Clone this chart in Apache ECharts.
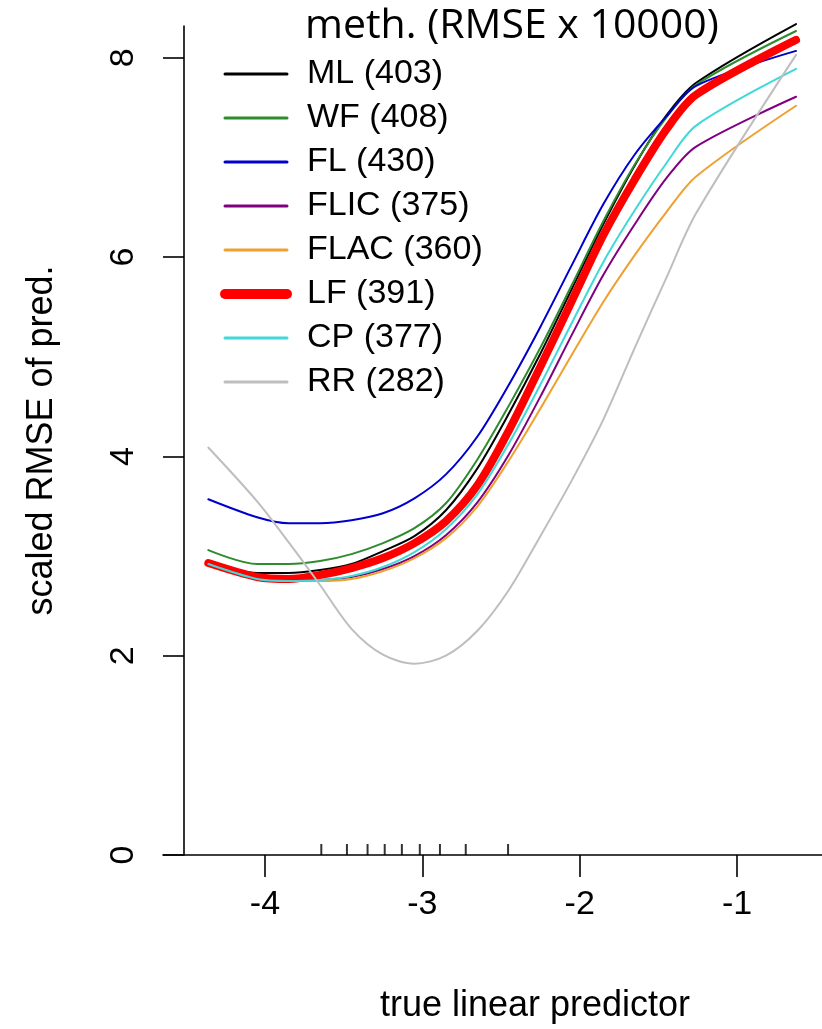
<!DOCTYPE html>
<html><head><meta charset="utf-8">
<script src="https://cdn.jsdelivr.net/npm/echarts@6/dist/echarts.min.js"></script>
<style>html,body{margin:0;padding:0;background:#fff}#c{width:822px;height:1029px}</style>
</head><body><div id="c"></div>
<script>
// true linear predictor grid
const xs   = [-4.36, -4.05, -3.85, -3.65, -3.45, -3.25, -3.05, -2.85, -2.65, -2.45, -2.25, -2.05, -1.85, -1.65, -1.45, -1.26, -0.625];
// scaled RMSE of prediction per method
const ML   = [2.93, 2.83, 2.83, 2.86, 2.92, 3.05, 3.20, 3.46, 3.88, 4.43, 5.03, 5.68, 6.33, 6.92, 7.42, 7.75, 8.34];
const WF   = [3.06, 2.92, 2.92, 2.95, 3.02, 3.13, 3.28, 3.53, 3.97, 4.51, 5.09, 5.72, 6.36, 6.93, 7.40, 7.73, 8.27];
const FL   = [3.57, 3.39, 3.33, 3.33, 3.36, 3.43, 3.58, 3.82, 4.20, 4.72, 5.30, 5.92, 6.53, 7.03, 7.41, 7.72, 8.07];
const FLIC = [2.92, 2.77, 2.75, 2.76, 2.79, 2.87, 3.00, 3.21, 3.54, 4.02, 4.60, 5.22, 5.82, 6.33, 6.79, 7.11, 7.61];
const FLAC = [2.92, 2.77, 2.75, 2.75, 2.77, 2.85, 2.98, 3.18, 3.50, 3.96, 4.48, 5.02, 5.55, 6.02, 6.45, 6.81, 7.52];
const LF   = [2.93, 2.79, 2.77, 2.81, 2.88, 2.98, 3.13, 3.35, 3.71, 4.26, 4.90, 5.56, 6.22, 6.78, 7.28, 7.63, 8.18];
const CP   = [2.92, 2.77, 2.75, 2.76, 2.80, 2.89, 3.04, 3.27, 3.62, 4.13, 4.72, 5.34, 5.95, 6.47, 6.94, 7.32, 7.89];
const RR   = [4.09, 3.55, 3.14, 2.71, 2.27, 2.01, 1.92, 2.00, 2.25, 2.66, 3.20, 3.76, 4.37, 5.09, 5.79, 6.44, 8.03];
// rug of observed linear predictor values
const rugX = [-3.642, -3.479, -3.348, -3.239, -3.130, -3.016, -2.888, -2.724, -2.455];
const xTicks = [-4, -3, -2, -1];
const yTicks = [0, 2, 4, 6, 8];
const names  = ['ML (403)', 'WF (408)', 'FL (430)', 'FLIC (375)', 'FLAC (360)', 'LF (391)', 'CP (377)', 'RR (282)'];
const values = [ML, WF, FL, FLIC, FLAC, LF, CP, RR];
const colors = ['#000000', '#2E8B2E', '#0000CD', '#800080', '#F0A030', '#FF0000', '#40D8D8', '#BEBEBE'];
const widths = [2, 2, 2, 2, 2, 8, 2, 2];

const chart = echarts.init(document.getElementById('c'));
const font = 'Liberation Sans';
const series = names.map((n, i) => ({
  name: n, type: 'line', symbol: 'none', clip: false, smooth: 0.3,
  data: xs.map((x, j) => [x, values[i][j]]),
  lineStyle: {color: colors[i], width: widths[i], cap: 'round', join: 'round'},
  itemStyle: {color: colors[i]}
}));
series.push({
  type: 'scatter', silent: true, symbol: 'rect', symbolSize: [2, 11], symbolOffset: [0, -5.5],
  data: rugX.map(x => [x, 0]), itemStyle: {color: '#000'}
});
chart.setOption({
  animation: false,
  backgroundColor: '#fff',
  title: [
    {text: 'meth. (RMSE x 10000)', left: 305, top: 6, padding: 0,
     textStyle: {fontFamily: 'Open Sans', fontSize: 41, fontWeight: 'normal', color: '#000'}},
    {text: 'true linear predictor', left: 535, top: 988, textAlign: 'center', padding: 0,
     textStyle: {fontFamily: font, fontSize: 36, fontWeight: 'normal', color: '#000'}}
  ],
  legend: {
    orient: 'vertical', left: 215, top: 47, itemWidth: 62, itemHeight: 14, itemGap: 0,
    itemStyle: {opacity: 0},
    textStyle: {fontFamily: font, fontSize: 34, color: '#000', padding: [14, 0, 0, 15], lineHeight: 30},
    data: names.map((n, i) => ({name: n, lineStyle: {width: i === 5 ? 10 : 3, cap: 'round'}}))
  },
  grid: {left: 163, right: 0, top: 26, bottom: 174, containLabel: false},
  xAxis: {
    type: 'value', min: -4.648, max: -0.460,
    axisLine: {show: true, onZero: false, lineStyle: {color: '#000', width: 1.6}},
    axisTick: {show: true, customValues: xTicks, length: 22, lineStyle: {color: '#000', width: 1.6}},
    axisLabel: {customValues: xTicks, fontFamily: font, fontSize: 34, color: '#000', margin: 33},
    splitLine: {show: false}
  },
  yAxis: {
    type: 'value', min: 0, max: 8.32, offset: -21,
    name: 'scaled RMSE of pred.', nameLocation: 'middle', nameRotate: 90, nameGap: 124,
    nameTextStyle: {fontFamily: font, fontSize: 36, color: '#000'},
    axisLine: {show: true, lineStyle: {color: '#000', width: 1.6}},
    axisTick: {show: true, customValues: yTicks, length: 21, lineStyle: {color: '#000', width: 1.6}},
    axisLabel: {customValues: yTicks, rotate: 90, fontFamily: font, fontSize: 34, color: '#000', margin: 43},
    splitLine: {show: false}
  },
  series: series
});
</script></body></html>
